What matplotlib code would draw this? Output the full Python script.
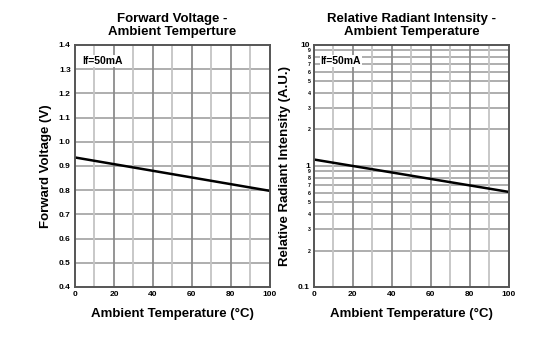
import matplotlib.pyplot as plt
from matplotlib.ticker import FixedLocator, FixedFormatter

plt.rcParams["font.family"] = ["Liberation Sans", "DejaVu Sans"]
plt.rcParams["font.weight"] = "bold"

# 数据: 环境温度 vs 正向电压 / 相对辐射强度 (If=50mA)
temp = [0, 100]
vf = [0.935, 0.797]
intensity = [1.13, 0.61]

vf_ticks = [0.4, 0.5, 0.6, 0.7, 0.8, 0.9, 1.0, 1.1, 1.2, 1.3, 1.4]
temp_ticks = [0, 20, 40, 60, 80, 100]
log_major = [0.1, 1, 10]
log_minor = [0.2, 0.3, 0.4, 0.5, 0.6, 0.7, 0.8, 0.9, 2, 3, 4, 5, 6, 7, 8, 9]
log_minor_labels = ["2", "3", "4", "5", "6", "7", "8", "9"] * 2

LIGHT = "#c4c4c4"
DARK = "#8c8c8c"
SPINE = "#555555"


def style_axes(ax):
    ax.set_xlim(0, 100)
    ax.xaxis.set_major_locator(FixedLocator(temp_ticks))
    ax.set_xlabel("Ambient Temperature (°C)", fontsize=9.5, fontweight="bold", labelpad=7)
    # 竖直网格: 20 的倍数深灰, 其余浅灰
    for x in range(10, 100, 10):
        ax.axvline(x, color=DARK if x % 20 == 0 else LIGHT, lw=1.3, zorder=1)
    for s in ax.spines.values():
        s.set_color(SPINE)
        s.set_linewidth(1.4)
        s.set_zorder(3)
    ax.tick_params(axis="both", which="both", length=0, labelsize=6, pad=3)
    for lab in ax.get_xticklabels() + ax.get_yticklabels():
        lab.set_fontweight("bold")
    ax.text(0.035, 0.955, "If=50mA", transform=ax.transAxes, fontsize=7.5, fontweight="bold",
            va="top", ha="left", zorder=4,
            bbox=dict(facecolor="white", edgecolor="none", pad=0.5))


fig = plt.figure(figsize=(5.43, 3.4), dpi=100)
ax1 = fig.add_axes([0.138, 0.156, 0.359, 0.712])
ax2 = fig.add_axes([0.578, 0.156, 0.359, 0.712])

# 左图: 正向电压
ax1.set_ylim(0.4, 1.4)
ax1.yaxis.set_major_locator(FixedLocator(vf_ticks))
ax1.yaxis.set_major_formatter(FixedFormatter([f"{v:.1f}" for v in vf_ticks]))
for v in vf_ticks[1:-1]:
    ax1.axhline(v, color="#a8a8a8", lw=1.3, zorder=1)
ax1.plot(temp, vf, color="black", lw=1.8, zorder=2)
ax1.set_ylabel("Forward Voltage (V)", fontsize=9.5, fontweight="bold", labelpad=5)
ax1.set_title("Forward Voltage -\nAmbient Temperture", fontsize=9.5, fontweight="bold",
              linespacing=1.15, pad=7)
style_axes(ax1)

# 右图: 相对辐射强度 (对数坐标)
ax2.set_yscale("log")
ax2.set_ylim(0.1, 10)
ax2.yaxis.set_major_locator(FixedLocator(log_major))
ax2.yaxis.set_major_formatter(FixedFormatter(["0.1", "1", "10"]))
ax2.yaxis.set_minor_locator(FixedLocator(log_minor))
ax2.yaxis.set_minor_formatter(FixedFormatter(log_minor_labels))
for v in log_minor + [1]:
    ax2.axhline(v, color="#a8a8a8", lw=1.3, zorder=1)
ax2.plot(temp, intensity, color="black", lw=1.8, zorder=2)
ax2.set_ylabel("Relative Radiant Intensity (A.U.)", fontsize=9.5, fontweight="bold", labelpad=5)
ax2.set_title("Relative Radiant Intensity -\nAmbient Temperature", fontsize=9.5, fontweight="bold",
              linespacing=1.15, pad=7)
style_axes(ax2)
ax2.tick_params(axis="y", which="minor", labelsize=3.8, pad=2)
for lab in ax2.yaxis.get_minorticklabels():
    lab.set_fontweight("bold")

fig.savefig("out.png", dpi=100)
